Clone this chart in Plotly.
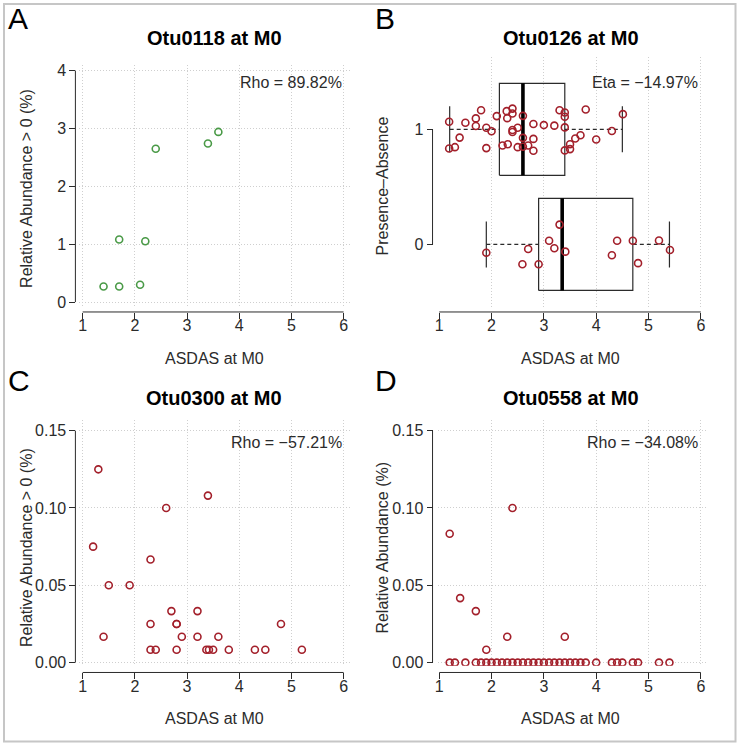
import plotly.graph_objects as go

W, H = 737, 750
FONT = "Liberation Sans, Arial, Helvetica, sans-serif"
GREEN = "#4a9a47"
RED = "#a3202b"
INK = "#2b2b2b"
GRID = "#cfcfcf"

# ---------------- data ----------------
x_ticks = [1, 2, 3, 4, 5, 6]

# Panel A: Otu0118
a_x = [1.4, 1.7, 1.7, 2.1, 2.2, 2.4, 3.4, 3.6]
a_y = [0.27, 0.27, 1.08, 0.30, 1.05, 2.65, 2.74, 2.94]
a_yticks = [0, 1, 2, 3, 4]

# Panel B: Otu0126 presence/absence
b_groups = [1, 0]
b_g1_x = [1.19, 1.19, 1.30, 1.39, 1.50, 1.70, 1.70, 1.80, 1.90, 1.90, 2.00, 2.10, 2.21, 2.29, 2.30,
          2.31, 2.40, 2.40, 2.40, 2.40, 2.50, 2.50, 2.60, 2.60, 2.60, 2.70, 2.80, 2.80, 2.80, 3.00,
          3.20, 3.30, 3.40, 3.40, 3.40, 3.40, 3.50, 3.50, 3.60, 3.70, 3.80, 4.00, 4.30, 4.51]
b_g1_y = [1.066, 0.834, 0.845, 0.928, 1.057, 1.095, 1.029, 1.166, 1.014, 0.837, 0.983, 1.115, 0.860,
          1.158, 1.097, 0.871, 1.180, 1.138, 0.994, 0.977, 1.014, 0.845, 1.117, 0.926, 0.848, 0.860,
          1.046, 0.917, 0.814, 1.037, 1.032, 1.166, 1.146, 1.109, 1.017, 0.817, 0.871, 0.828, 0.920,
          0.948, 1.172, 0.911, 0.986, 1.132]
b_g0_x = [1.90, 2.59, 2.70, 2.90, 3.10, 3.20, 3.30, 3.41, 4.30, 4.40, 4.70, 4.80, 5.20, 5.41]
b_g0_y = [-0.072, -0.172, -0.040, -0.172, 0.032, -0.034, 0.172, -0.063, -0.095, 0.032, 0.032,
          -0.163, 0.034, -0.049]
# five-number summaries (lower whisker, Q1, median, Q3, upper whisker) for groups 1 and 0
b_low = [1.20, 1.90]
b_q1 = [2.15, 2.90]
b_med = [2.60, 3.35]
b_q3 = [3.40, 4.70]
b_high = [4.50, 5.40]
b_yticks = [0, 1]

# Panel C: Otu0300
c_x = [1.2, 1.3, 1.4, 1.5, 1.9, 2.3, 2.3, 2.3, 2.4, 2.6, 2.7, 2.8, 2.8, 2.8, 2.9, 3.2, 3.2, 3.4,
       3.37, 3.42, 3.5, 3.6, 3.8, 4.3, 4.5, 4.8, 5.2]
c_y = [0.075, 0.125, 0.0167, 0.05, 0.05, 0.0667, 0.025, 0.0083, 0.0083, 0.1, 0.0333, 0.025, 0.025,
       0.0083, 0.0167, 0.0333, 0.0167, 0.108, 0.0083, 0.0083, 0.0083, 0.0167, 0.0083, 0.0083,
       0.0083, 0.025, 0.0083]

# Panel D: Otu0558
d_x = [1.2, 1.4, 1.7, 1.9, 2.3, 2.4, 3.4,
       1.2, 1.3, 1.5, 1.7, 1.8, 1.9, 2.0, 2.1, 2.2, 2.3, 2.4, 2.5, 2.6, 2.7, 2.8, 2.9, 3.0, 3.1,
       3.2, 3.3, 3.4, 3.5, 3.6, 3.7, 3.8, 4.0, 4.3, 4.4, 4.5, 4.7, 4.8, 5.2, 5.4]
d_y = [0.0833, 0.0417, 0.0333, 0.0083, 0.0167, 0.1, 0.0167] + [0.0] * 33
cd_yticks = [0.00, 0.05, 0.10, 0.15]
cd_yticktext = ["0.00", "0.05", "0.10", "0.15"]

titles = ["Otu0118 at M0", "Otu0126 at M0", "Otu0300 at M0", "Otu0558 at M0"]
ytitles = ["Relative Abundance > 0 (%)", "Presence\u2013Absence",
           "Relative Abundance > 0 (%)", "Relative Abundance (%)"]
xtitle = "ASDAS at M0"
stats = ["Rho = 89.82%", "Eta = \u221214.97%", "Rho = \u221257.21%", "Rho = \u221234.08%"]
letters = ["A", "B", "C", "D"]


# ---------------- helpers (pixel -> paper) ----------------
def px(x):
    return x / W


def py(y):
    return 1 - y / H


fig = go.Figure()

marker_red = dict(symbol="circle-open", size=7, color=RED, line=dict(width=1.6, color=RED))
marker_green = dict(symbol="circle-open", size=7, color=GREEN, line=dict(width=1.6, color=GREEN))

# A
fig.add_trace(go.Scatter(x=a_x, y=a_y, mode="markers", marker=marker_green,
                         xaxis="x", yaxis="y", showlegend=False))

# B boxes (drawn with the library's scales), then points
HALF = 0.4
for i, g in enumerate(b_groups):
    q1, q3, med, lo, hi = b_q1[i], b_q3[i], b_med[i], b_low[i], b_high[i]
    fig.add_trace(go.Scatter(x=[q1, q3, q3, q1, q1], y=[g - HALF, g - HALF, g + HALF, g + HALF, g - HALF],
                             mode="lines", line=dict(color=INK, width=1.2),
                             xaxis="x2", yaxis="y2", showlegend=False, hoverinfo="skip"))
    fig.add_trace(go.Scatter(x=[lo, q1, None, q3, hi], y=[g, g, None, g, g], mode="lines",
                             line=dict(color=INK, width=1.1, dash="4px,3px"),
                             xaxis="x2", yaxis="y2", showlegend=False, hoverinfo="skip"))
    fig.add_trace(go.Scatter(x=[lo, lo, None, hi, hi],
                             y=[g - HALF / 2, g + HALF / 2, None, g - HALF / 2, g + HALF / 2],
                             mode="lines", line=dict(color=INK, width=1.2),
                             xaxis="x2", yaxis="y2", showlegend=False, hoverinfo="skip"))
    fig.add_trace(go.Scatter(x=[med, med], y=[g - HALF, g + HALF], mode="lines",
                             line=dict(color="#000000", width=3.6),
                             xaxis="x2", yaxis="y2", showlegend=False, hoverinfo="skip"))

fig.add_trace(go.Scatter(x=b_g1_x, y=b_g1_y, mode="markers", marker=marker_red,
                         xaxis="x2", yaxis="y2", showlegend=False))
fig.add_trace(go.Scatter(x=b_g0_x, y=b_g0_y, mode="markers", marker=marker_red,
                         xaxis="x2", yaxis="y2", showlegend=False))

# C
fig.add_trace(go.Scatter(x=c_x, y=c_y, mode="markers", marker=marker_red,
                         xaxis="x3", yaxis="y3", showlegend=False))
# D
fig.add_trace(go.Scatter(x=d_x, y=d_y, mode="markers", marker=marker_red,
                         xaxis="x4", yaxis="y4", showlegend=False))

tickfont = dict(family=FONT, size=16, color=INK)


def xax(dom_px, rng, axis_y_px, grid=True):
    return dict(domain=[px(dom_px[0]), px(dom_px[1])], range=rng, anchor="free",
                position=py(axis_y_px), tickvals=x_ticks, ticks="outside", ticklen=6,
                tickwidth=1, tickcolor=INK, tickfont=tickfont, showline=False,
                ticklabelstandoff=-7,
                zeroline=False, showgrid=grid, gridcolor=GRID, griddash="1px,2px", gridwidth=1,
                fixedrange=True)


def yax(dom_px, rng, axis_x_px, tickvals, ticktext=None, grid=True):
    d = dict(domain=[py(dom_px[1]), py(dom_px[0])], range=rng, anchor="free",
             position=px(axis_x_px), tickvals=tickvals, ticks="outside", ticklen=6,
             tickwidth=1, tickcolor=INK, tickfont=tickfont, showline=False,
             zeroline=False, showgrid=grid, gridcolor=GRID, griddash="1px,2px", gridwidth=1,
             fixedrange=True)
    if ticktext is not None:
        d["ticktext"] = ticktext
    return d


# geometry (pixels)
LEFT_X = (76, 348)
LEFT_XR = [0.9237, 6.1145]
RIGHT_X = (437, 706)
RIGHT_XR = [0.981, 6.101]
TOP_AXIS_Y = 312.3
BOT_AXIS_Y = 676.7
LEFT_AXIS_X = 72.7
RIGHT_AXIS_X = 431.3

fig.update_layout(
    width=W, height=H, margin=dict(l=0, r=0, t=0, b=0),
    paper_bgcolor="white", plot_bgcolor="white",
    font=dict(family=FONT, size=16, color=INK),
    xaxis=xax(LEFT_X, LEFT_XR, TOP_AXIS_Y),
    yaxis=yax((63, 307), [-0.0803, 4.0906], LEFT_AXIS_X, a_yticks),
    xaxis2=xax(RIGHT_X, RIGHT_XR, TOP_AXIS_Y),
    yaxis2=yax((55, 308), [-0.5503, 1.6251], RIGHT_AXIS_X, b_yticks, grid=False),
    xaxis3=xax(LEFT_X, LEFT_XR, BOT_AXIS_Y),
    yaxis3=yax((421.7, 670), [-0.00211, 0.15678], LEFT_AXIS_X, cd_yticks, cd_yticktext),
    xaxis4=xax(RIGHT_X, RIGHT_XR, BOT_AXIS_Y),
    yaxis4=yax((421.7, 670), [-0.00211, 0.15678], RIGHT_AXIS_X, cd_yticks, cd_yticktext),
)

shapes = []
# R-style axis lines spanning first to last tick
for xr, ay in [("x", TOP_AXIS_Y), ("x2", TOP_AXIS_Y), ("x3", BOT_AXIS_Y), ("x4", BOT_AXIS_Y)]:
    shapes.append(dict(type="line", xref=xr, yref="paper", x0=x_ticks[0], x1=x_ticks[-1],
                       y0=py(ay), y1=py(ay), line=dict(color=INK, width=1)))
for yr, axx, tv in [("y", LEFT_AXIS_X, a_yticks), ("y2", RIGHT_AXIS_X, b_yticks),
                    ("y3", LEFT_AXIS_X, cd_yticks), ("y4", RIGHT_AXIS_X, cd_yticks)]:
    shapes.append(dict(type="line", xref="paper", yref=yr, x0=px(axx), x1=px(axx),
                       y0=tv[0], y1=tv[-1], line=dict(color=INK, width=1)))
# outer frame
shapes.append(dict(type="rect", xref="paper", yref="paper", x0=px(1), x1=px(735.5),
                   y0=py(746.5), y1=py(1), line=dict(color="#c6c6c6", width=2)))
fig.update_layout(shapes=shapes)

ann = []
centers_x = [212, 570, 212, 570]
row_title_y = [35, 399]
row_xt_y = [359, 723]
row_stat_y = [80, 444]
ytitle_x = [23, 381, 23, 381]
ytitle_y = [187, 185, 550, 550]
stat_right = [342, 700, 342, 700]
letter_pos = [(3, 16), (372, 16), (3, 382), (372, 382)]
for i in range(4):
    r = i // 2
    ann.append(dict(text="<b>" + titles[i] + "</b>", x=px(centers_x[i]), y=py(row_title_y[r]),
                    xref="paper", yref="paper", showarrow=False, xanchor="center", yanchor="middle",
                    font=dict(family=FONT, size=20, color="#000000")))
    ann.append(dict(text=xtitle, x=px(centers_x[i]), y=py(row_xt_y[r]), xref="paper", yref="paper",
                    showarrow=False, xanchor="center", yanchor="middle",
                    font=dict(family=FONT, size=16, color=INK)))
    ann.append(dict(text=ytitles[i], x=px(ytitle_x[i]), y=py(ytitle_y[i]), xref="paper", yref="paper",
                    showarrow=False, xanchor="center", yanchor="middle", textangle=-90,
                    font=dict(family=FONT, size=16, color=INK)))
    ann.append(dict(text=stats[i], x=px(stat_right[i]), y=py(row_stat_y[r]), xref="paper", yref="paper",
                    showarrow=False, xanchor="right", yanchor="middle",
                    font=dict(family=FONT, size=16, color=INK)))
    lx, ly = letter_pos[i]
    ann.append(dict(text=letters[i], x=px(lx), y=py(ly), xref="paper", yref="paper",
                    showarrow=False, xanchor="left", yanchor="middle",
                    font=dict(family=FONT, size=30, color="#000000")))
fig.update_layout(annotations=ann)

fig.write_html("out.html", config={"displayModeBar": False},
               post_script="document.body.style.margin='0';document.body.style.overflow='hidden';")
